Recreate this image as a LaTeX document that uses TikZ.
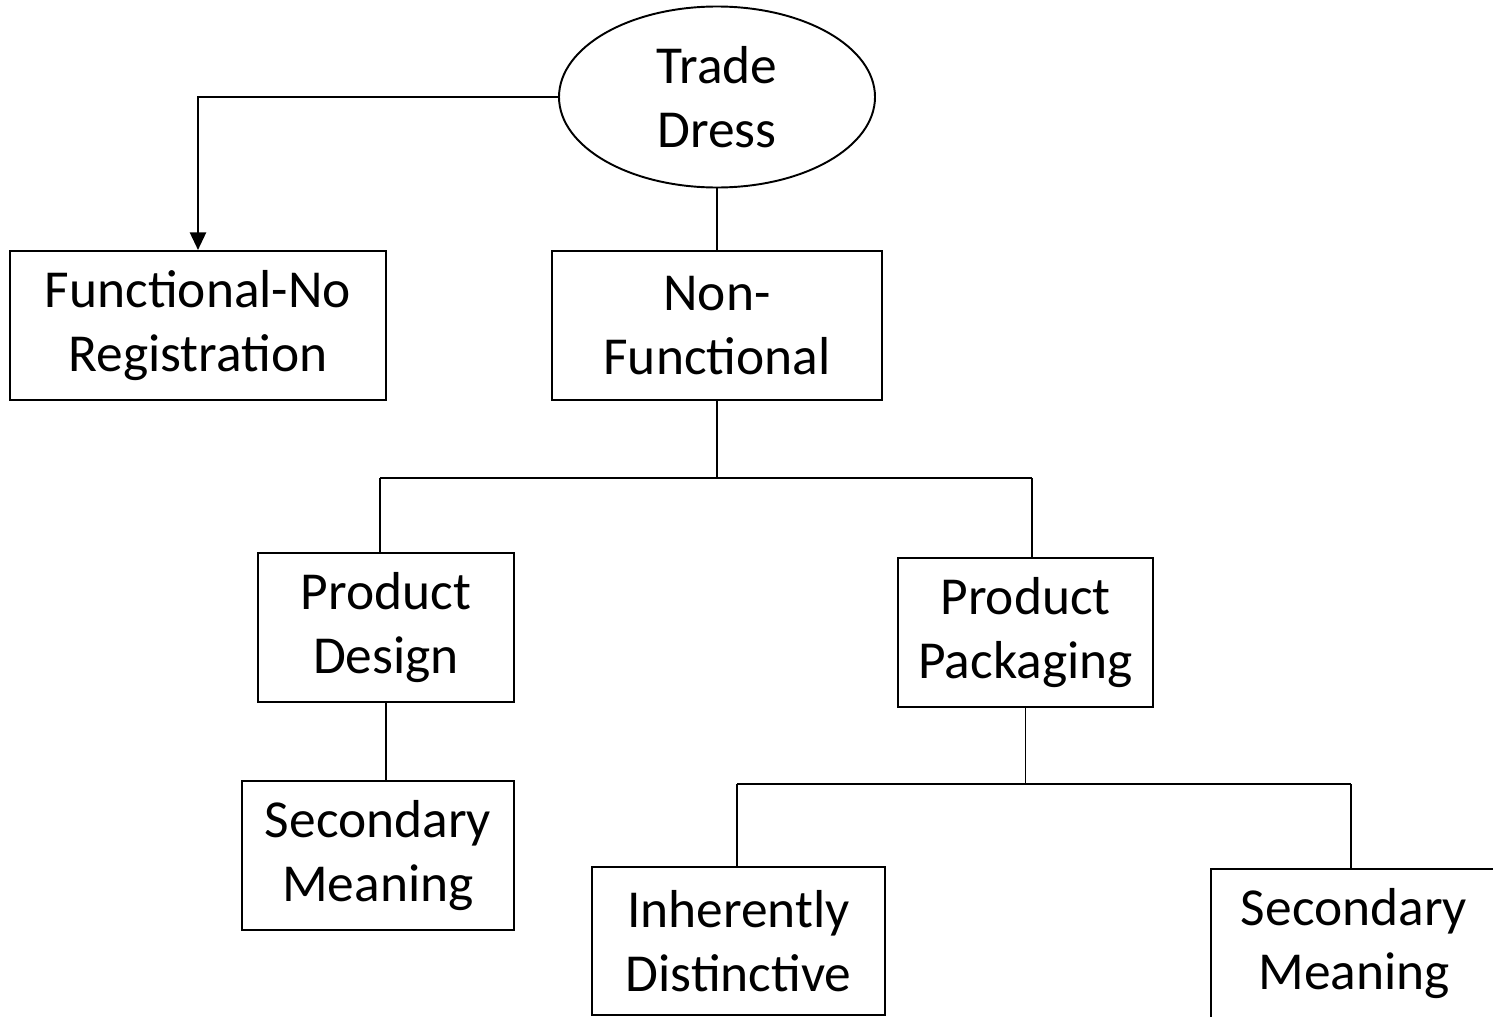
\documentclass[tikz,border=0pt]{standalone}
\usepackage{fontspec}
\setmainfont{Carlito}
\usetikzlibrary{shapes.geometric, positioning, arrows.meta}

\begin{document}
\begin{tikzpicture}[-,line width=0.55pt,font=\fontsize{15.2}{18.2}\selectfont]
			\tikzstyle{branch}=[draw,rectangle,align=center,minimum height=1.49cm,inner sep=0pt]
			\tikzstyle{root}=[draw,ellipse,align=center,minimum width=3.16cm,minimum height=1.81cm,inner sep=0pt]
			\useasboundingbox (0,0) rectangle (14.93,-10.16);
			
			\node[root] (TD) at (7.17,-0.97) {Trade\\Dress};
			\node[branch, minimum width=3.76cm] (FN) at (1.98,-3.255) {Functional-No\\Registration};
			\node[branch, minimum width=3.30cm] (NF) at (7.17,-3.255) {Non-\\Functional};
			\node[branch, minimum width=2.56cm] (PD) at (3.86,-6.275) {Product\\Design};
			\node[branch, minimum width=2.55cm] (PP) at (10.255,-6.325) {Product\\Packaging};
			\node[branch, minimum width=2.72cm] (SM1) at (3.78,-8.555) {Secondary\\Meaning};
			\node[branch, minimum width=2.93cm, minimum height=1.48cm] (ID) at (7.385,-9.41) {Inherently\\Distinctive};
			\node[branch, minimum width=2.86cm] (SM2) at (13.54,-9.435) {Secondary\\Meaning};
			
			% junctions
			\coordinate (J1) at (7.17,-4.78);
			\coordinate (J1l) at (3.80,-4.78);
			\coordinate (J1r) at (10.32,-4.78);
			\coordinate (J2) at (10.255,-7.84);
			\coordinate (J2l) at (7.37,-7.84);
			\coordinate (J2r) at (13.51,-7.84);
			
			\draw[-{Triangle[length=5pt,width=4.5pt]}, line width=0.8pt] (TD.west) -| (FN.north);
			\draw (TD.south) -- (NF.north);
			\draw (NF.south) -- (J1);
			\draw (J1l) -- (J1r);
			\draw (J1l) -- (J1l |- PD.north);
			\draw (J1r) -- (J1r |- PP.north);
			\draw (PD.south) -- (PD.south |- SM1.north);
			\draw (PP.south) -- (J2);
			\draw (J2l) -- (J2r);
			\draw (J2l) -- (J2l |- ID.north);
			\draw (J2r) -- (J2r |- SM2.north);
		\end{tikzpicture}
\end{document}
